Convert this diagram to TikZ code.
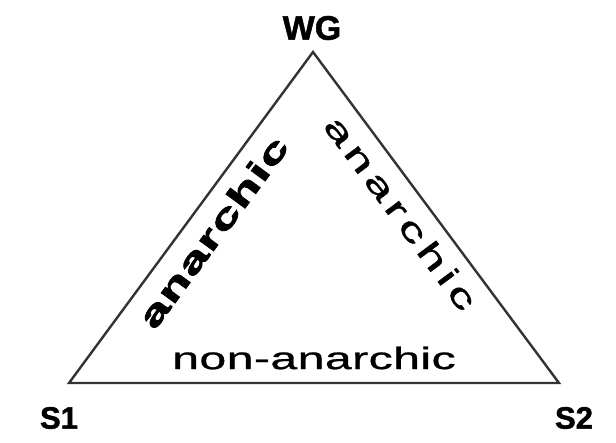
\documentclass[tikz,border=0pt]{standalone}
\usepackage{fontspec}
\setmainfont{Liberation Sans}
\newfontfamily\lblfont[FakeBold=1.5]{Liberation Sans}
\newfontfamily\spacedA[LetterSpace=3,FakeBold=2]{Liberation Sans}
\newfontfamily\spacedB[LetterSpace=11,FakeBold=1]{Liberation Sans}
\newfontfamily\spacedC[LetterSpace=1,FakeBold=0.8]{Liberation Sans}
\begin{document}
\begin{tikzpicture}[x=1pt,y=-1pt,
  vlabel/.style={inner sep=0pt, font=\lblfont\bfseries\fontsize{31}{36}\selectfont},
  sidetext/.style={inner sep=0pt, transform shape, xscale=1.6}]
\useasboundingbox[fill=white] (0,0) rectangle (616,442);
\coordinate (WGc) at (313,52);
\coordinate (S1c) at (69,383);
\coordinate (S2c) at (559,383);
\draw[line width=2.4pt, black!80, line join=miter] (WGc) -- (S1c) -- (S2c) -- cycle;
\node[vlabel, font=\lblfont\bfseries\fontsize{34}{38}\selectfont] (WG) at (312,28) {WG};
\node[vlabel] (S1) at (59,418) {S1};
\node[vlabel] (S2) at (574,418) {S2};
\begin{scope}[shift={(213,232)}, rotate=53.6]
\node[sidetext, font=\spacedA\bfseries\fontsize{33}{36}\selectfont] (left) at (0,0) {anarchic};
\end{scope}
\begin{scope}[shift={(401,213)}, rotate=-53.4]
\node[sidetext, font=\spacedB\fontsize{32}{36}\selectfont] (right) at (0,0) {anarchic};
\end{scope}
\node[sidetext, xscale=0.97, font=\spacedC\fontsize{31}{36}\selectfont] (bottom) at (314,358) {non-anarchic};
\end{tikzpicture}
\end{document}
